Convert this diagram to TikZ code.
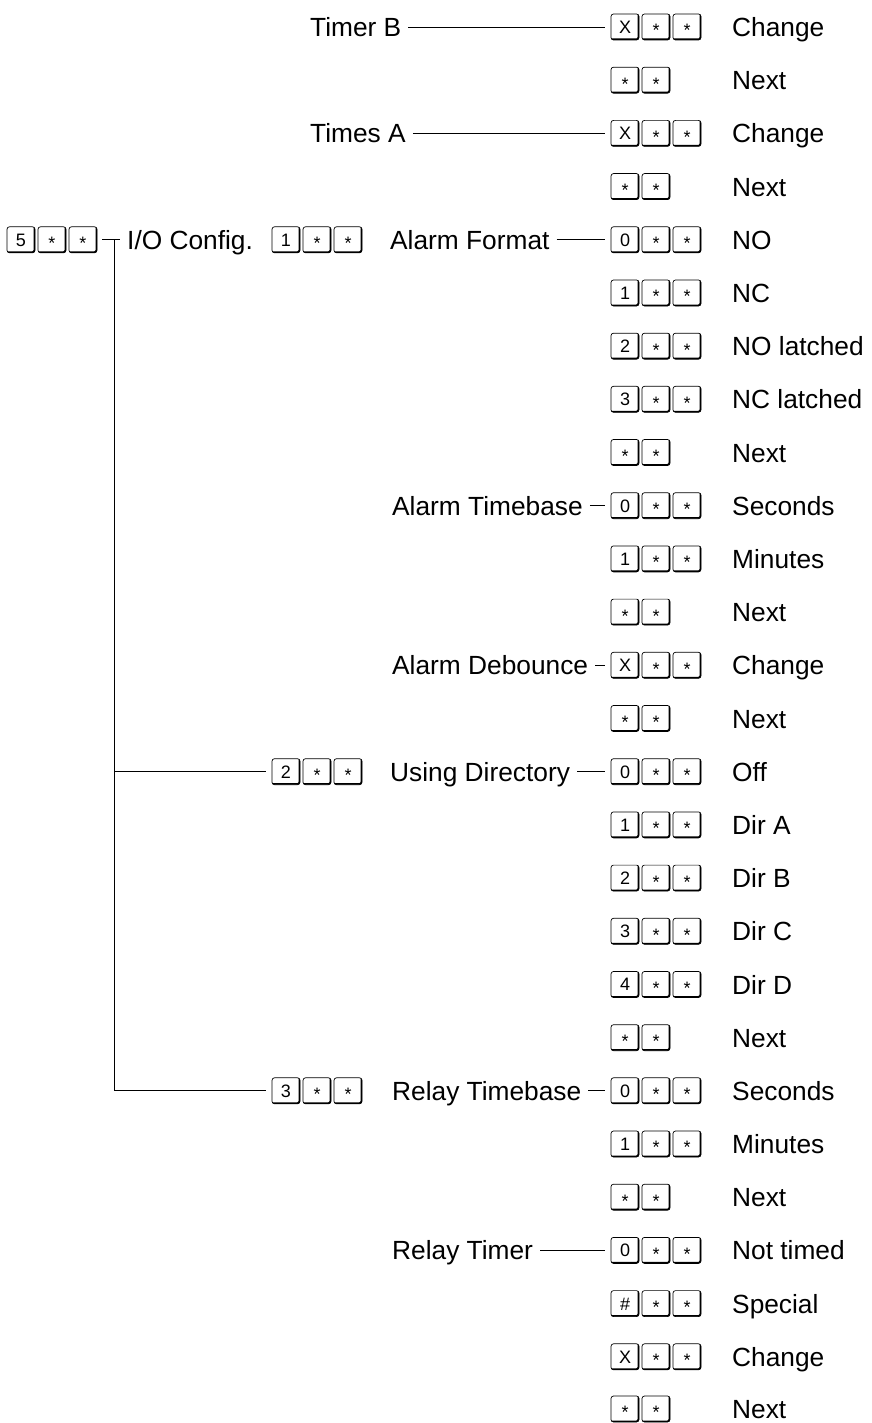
\documentclass[tikz,border=0pt]{standalone}
\usepackage{fontspec}
\setmainfont{Liberation Sans}
\usetikzlibrary{positioning}

% star on a key, lowered to the middle
\newcommand{\st}{\raisebox{-3.5pt}{*}}
% three keys in a row: name, x, y, first key
\newcommand{\keytrio}[4]{%
  \node[keycap] (#1a) at (#2,#3) {#4};
  \node[keycap, right=3pt of #1a] (#1b) {\st};
  \node[keycap, right=3pt of #1b] (#1c) {\st};}
% two star keys: name, x, y
\newcommand{\keypair}[3]{%
  \node[keycap] (#1a) at (#2,#3) {\st};
  \node[keycap, right=3pt of #1a] (#1b) {\st};}

\begin{document}
\begin{tikzpicture}[x=1pt, y=-1pt,
  keycap/.style={draw, line width=0.7pt, rounded corners=2.5pt,
    minimum width=28pt, minimum height=26pt, inner sep=0pt, outer sep=0pt,
    font=\fontsize{18}{18}\selectfont, text height=12.9pt, text depth=0pt,
    path picture={\draw[line width=3pt] (path picture bounding box.north east)
      -- (path picture bounding box.south east) -- (path picture bounding box.south west);}},
  lbl/.style={anchor=west, inner sep=2pt, font=\fontsize{26.3}{30}\selectfont,
    text height=19pt, text depth=0pt},
  link/.style={line width=0.9pt, shorten <=5pt, shorten >=6pt}]

\useasboundingbox (0,0) rectangle (871,1423);

% Timers
\node[lbl] (tmb) at (308,27) {Timer B};
\keytrio{r0}{625}{27}{X}
\node[lbl] (r0t) at (730,27) {Change};
\keypair{r1}{625}{80.2}
\node[lbl] (r1t) at (730,80.2) {Next};
\node[lbl] (tma) at (308,133.4) {Times A};
\keytrio{r2}{625}{133.4}{X}
\node[lbl] (r2t) at (730,133.4) {Change};
\keypair{r3}{625}{186.6}
\node[lbl] (r3t) at (730,186.6) {Next};

\draw[link] (tmb.east) -- (r0a.west);
\draw[link] (tma.east) -- (r2a.west);

% I/O Config
\keytrio{io}{21}{239.8}{5}
\node[lbl] (iot) at (125,239.8) {I/O Config.};
\coordinate (trunk) at (114,239.8);

% Alarm Format
\keytrio{m1}{286}{239.8}{1}
\node[lbl] (afmt) at (388,239.8) {Alarm Format};
\keytrio{r4}{625}{239.8}{0}
\node[lbl] (r4t) at (730,239.8) {NO};
\keytrio{r5}{625}{293.0}{1}
\node[lbl] (r5t) at (730,293.0) {NC};
\keytrio{r6}{625}{346.2}{2}
\node[lbl] (r6t) at (730,346.2) {NO latched};
\keytrio{r7}{625}{399.3}{3}
\node[lbl] (r7t) at (730,399.3) {NC latched};
\keypair{r8}{625}{452.5}
\node[lbl] (r8t) at (730,452.5) {Next};

% Alarm Timebase
\node[lbl] (atb) at (390,505.7) {Alarm Timebase};
\keytrio{r9}{625}{505.7}{0}
\node[lbl] (r9t) at (730,505.7) {Seconds};
\keytrio{r10}{625}{558.9}{1}
\node[lbl] (r10t) at (730,558.9) {Minutes};
\keypair{r11}{625}{612.1}
\node[lbl] (r11t) at (730,612.1) {Next};

% Alarm Debounce
\node[lbl] (adb) at (390,665.3) {Alarm Debounce};
\keytrio{r12}{625}{665.3}{X}
\node[lbl] (r12t) at (730,665.3) {Change};
\keypair{r13}{625}{718.5}
\node[lbl] (r13t) at (730,718.5) {Next};

% Using Directory
\keytrio{m2}{286}{771.7}{2}
\node[lbl] (udir) at (388,771.7) {Using Directory};
\keytrio{r14}{625}{771.7}{0}
\node[lbl] (r14t) at (730,771.7) {Off};
\keytrio{r15}{625}{824.9}{1}
\node[lbl] (r15t) at (730,824.9) {Dir A};
\keytrio{r16}{625}{878.1}{2}
\node[lbl] (r16t) at (730,878.1) {Dir B};
\keytrio{r17}{625}{931.3}{3}
\node[lbl] (r17t) at (730,931.3) {Dir C};
\keytrio{r18}{625}{984.5}{4}
\node[lbl] (r18t) at (730,984.5) {Dir D};
\keypair{r19}{625}{1037.7}
\node[lbl] (r19t) at (730,1037.7) {Next};

% Relay Timebase
\keytrio{m3}{286}{1090.8}{3}
\node[lbl] (rtb) at (390,1090.8) {Relay Timebase};
\keytrio{r20}{625}{1090.8}{0}
\node[lbl] (r20t) at (730,1090.8) {Seconds};
\keytrio{r21}{625}{1144.0}{1}
\node[lbl] (r21t) at (730,1144.0) {Minutes};
\keypair{r22}{625}{1197.2}
\node[lbl] (r22t) at (730,1197.2) {Next};

% Relay Timer
\node[lbl] (rtm) at (390,1250.4) {Relay Timer};
\keytrio{r23}{625}{1250.4}{0}
\node[lbl] (r23t) at (730,1250.4) {Not timed};
\keytrio{r24}{625}{1303.6}{\#}
\node[lbl] (r24t) at (730,1303.6) {Special};
\keytrio{r25}{625}{1356.8}{X}
\node[lbl] (r25t) at (730,1356.8) {Change};
\keypair{r26}{625}{1409.0}
\node[lbl] (r26t) at (730,1409.0) {Next};

% connectors
\draw[link, shorten >=5pt] (ioc.east) -- (ioc.east -| iot.west);
\draw[link, shorten <=0pt] (trunk) |- (m3a.west);
\draw[link, shorten <=0pt] (trunk |- m2a) -- (m2a.west);
\draw[link] (afmt.east) -- (r4a.west);
\draw[link] (atb.east) -- (r9a.west);
\draw[link] (adb.east) -- (r12a.west);
\draw[link] (udir.east) -- (r14a.west);
\draw[link] (rtb.east) -- (r20a.west);
\draw[link] (rtm.east) -- (r23a.west);

\end{tikzpicture}
\end{document}
